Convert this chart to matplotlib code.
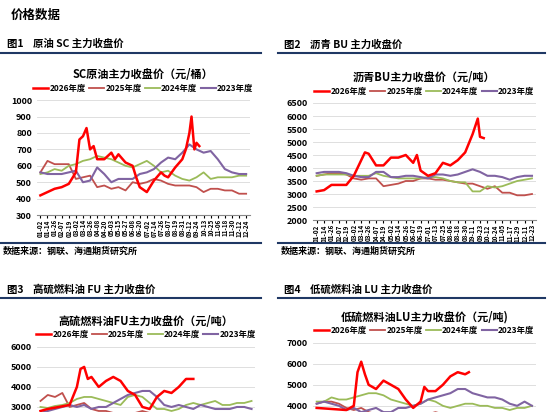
import numpy as np
import matplotlib.pyplot as plt

plt.rcParams['font.family'] = ['Noto Sans CJK SC', 'DejaVu Sans']

# couleurs des séries
C26, C25, C24, C23 = '#FF0000', '#C0504D', '#9BBB59', '#8064A2'
yrs = ['2026年度', '2025年度', '2024年度', '2023年度']

# axe des dates
sc_ticks = ['01-02','01-14','01-26','02-07','02-19','03-02','03-14','03-26','04-08','04-20',
            '05-03','05-15','05-27','06-08','06-20','07-02','07-14','07-26','08-07','08-19',
            '08-31','09-12','09-24','10-13','10-25','11-06','11-18','11-30','12-12','12-24']
bu_ticks = ['01-02','01-14','01-26','02-07','02-19','03-02','03-14','03-26','04-07','04-19',
            '05-02','05-14','05-26','06-07','06-19','07-01','07-13','07-25','08-06','08-18',
            '08-30','09-11','09-23','10-12','10-24','11-05','11-17','11-29','12-11','12-23']

# SC
sc26_x = [0,1,2,3,4,5,5.5,6,6.5,7,7.5,8,9,10,10.5,11,12,13,13.5,14,15,16,17,17.5,18,19,20,20.5,21,21.3,21.7,22,22.4]
sc26_y = [420,440,460,470,490,560,760,780,830,700,720,640,640,680,640,670,620,600,530,470,440,510,560,540,530,590,640,700,800,900,700,740,720]
sc25 = [560,630,610,610,610,520,530,540,470,480,460,470,450,500,490,500,520,510,490,480,480,480,470,440,460,460,450,450,430,430]
sc24 = [550,560,580,570,600,610,630,640,660,650,640,620,600,590,610,630,600,560,570,540,520,510,530,560,520,530,530,530,540,540]
sc23 = [560,550,550,550,560,570,500,510,590,550,500,520,520,520,550,560,580,620,650,640,680,730,700,680,690,640,580,560,550,550]

# BU
bu26_x = [0,1,2,3,4,5,6,6.5,7,8,9,10,11,12,13,13.5,14,15,16,17,18,19,20,21,21.7,22,22.5]
bu26_y = [3100,3150,3350,3350,3350,3700,4300,4600,4550,4100,4100,4400,4400,4500,4200,4500,3900,3700,3800,4200,4100,4300,4600,5300,5900,5200,5150]
bu25 = [3700,3750,3800,3800,3750,3600,3550,3600,3600,3300,3350,3400,3500,3500,3600,3600,3550,3550,3500,3450,3400,3400,3300,3200,3300,3050,3050,2950,2950,3000]
bu24 = [3700,3750,3750,3750,3750,3700,3700,3700,3800,3700,3650,3600,3600,3600,3600,3650,3650,3600,3500,3450,3450,3100,3100,3300,3250,3300,3400,3500,3550,3600]
bu23 = [3800,3850,3850,3850,3800,3700,3650,3650,3850,3850,3650,3650,3700,3700,3650,3600,3750,3750,3700,3750,3850,3950,3850,3700,3700,3650,3550,3650,3700,3700]

# FU
fu26_x = [0,1,4,5,5.5,6,6.5,7,8,9,10,11,12,13,14,15,16,17,18,19,20,21]
fu26_y = [2800,2900,3100,4000,4900,5000,4400,4500,4000,4300,4500,4300,3800,3600,3000,2900,3500,3800,3700,4000,4400,4400]
fu25 = [3300,3600,3500,3700,3000,3100,3200,2900,2800,2800,2700,2700,2700,2700,2800,2700,2700,2600,2600,2600,2700,2700,2600,2500,2500,2500,2400,2400,2400,2400]
fu24 = [3000,2950,3050,3100,3200,3400,3500,3500,3400,3300,3200,3100,3500,3600,3500,3200,2900,2900,2800,2900,3100,3200,3100,3200,3300,3100,3100,3200,3200,3300]
fu23 = [2700,2800,2900,3000,3100,3000,3100,2900,3000,3000,3200,3400,3600,3700,3800,3800,3500,3100,3000,3100,3000,2900,3100,3000,2900,2900,2900,3000,3000,2900]

# LU
lu26_x = [0,4,5,5.5,6,6.5,7,8,9,10,11,12,13,14,14.5,15,16,17,18,19,20,20.5]
lu26_y = [3900,3800,4000,5600,6100,5500,5000,4800,5200,5000,4800,4300,3900,4200,4900,4700,4700,5000,5400,5600,5500,5600]
lu25 = [4100,4200,4200,4100,3900,3800,3900,3700,3600,3600,3600,3500,3500,3500,3600,3600,3700,3600,3500,3500,3500,3400,3400,3300,3300,3300,3300,3200,3200,3200]
lu24 = [4200,4200,4400,4300,4300,4400,4500,4600,4600,4500,4300,4200,4100,4000,4100,4300,4200,4000,3900,4000,4100,4100,4000,4000,3900,3900,3800,3900,3900,4000]
lu23 = [4100,4200,4100,4000,3800,3900,3700,3800,3900,3700,3700,3900,3900,4000,4100,4300,4400,4500,4600,4800,4800,4600,4500,4400,4400,4300,4100,4000,4200,4000]


def panel(rect, titre, ticks, d26x, d26y, d25, d24, d23, ylim, ystep, show_x=True):
    ax = fig.add_axes(rect)
    idx = np.arange(len(ticks))
    ax.plot(idx, d25, color=C25, lw=1.3, label=yrs[1])
    ax.plot(idx, d24, color=C24, lw=1.3, label=yrs[2])
    ax.plot(idx, d23, color=C23, lw=1.5, label=yrs[3])
    ax.plot(d26x, d26y, color=C26, lw=1.8, label=yrs[0], zorder=5)
    h, l = ax.get_legend_handles_labels()
    order = [3, 0, 1, 2]
    ax.legend([h[i] for i in order], [l[i] for i in order], loc='lower center',
              bbox_to_anchor=(0.5, 1.0), ncol=4, frameon=False,
              handlelength=1.8, handletextpad=0.15, columnspacing=0.4,
              prop={'weight': 'bold', 'size': 6})
    ax.set_title(titre, fontsize=8, fontweight='bold', pad=16)
    ax.set_ylim(*ylim)
    ax.set_yticks(np.arange(ylim[0], ylim[1] + 1, ystep))
    ax.set_xlim(-0.5, len(ticks) - 0.5)
    ax.set_xticks(idx)
    if show_x:
        ax.set_xticklabels(ticks, rotation=90, fontsize=4.5, fontweight='bold')
    else:
        ax.set_xticklabels([])
    ax.tick_params(axis='y', labelsize=6.5, length=0)
    for t in ax.get_yticklabels():
        t.set_fontweight('bold')
    ax.tick_params(axis='x', length=2, pad=1)
    ax.grid(axis='y', color='#D9D9D9', lw=0.6)
    for s in ['top', 'right', 'left']:
        ax.spines[s].set_visible(False)
    ax.spines['bottom'].set_color('#888888')
    return ax


fig = plt.figure(figsize=(5.5, 4.12), dpi=100)
fig.text(0.02, 0.962, '价格数据', fontsize=9, fontweight='bold', va='center')

# en-têtes et filets
for x0, x1, y, txt in [(0.0, 0.475, 0.893, '图1    原油 SC 主力收盘价'),
                       (0.505, 0.99, 0.893, '图2    沥青 BU 主力收盘价'),
                       (0.0, 0.475, 0.297, '图3    高硫燃料油 FU 主力收盘价'),
                       (0.505, 0.99, 0.297, '图4    低硫燃料油 LU 主力收盘价')]:
    fig.text(x0 + 0.012, y, txt, fontsize=7.5, fontweight='bold', va='center')
    fig.add_artist(plt.Line2D([x0, x1], [y - 0.021, y - 0.021], color='#1F3864', lw=1.5))

for x0, x1 in [(0.0, 0.475), (0.505, 0.99)]:
    fig.add_artist(plt.Line2D([x0, x1], [0.41, 0.41], color='#1F3864', lw=1.5))
    fig.text(x0 + 0.005, 0.39, '数据来源：钢联、海通期货研究所', fontsize=6.5, fontweight='bold', va='center')

panel([0.067, 0.478, 0.387, 0.279], 'SC原油主力收盘价（元/桶）', sc_ticks,
      sc26_x, sc26_y, sc25, sc24, sc23, (300, 1000), 100)
panel([0.569, 0.466, 0.405, 0.284], '沥青BU主力收盘价（元/吨）', bu_ticks,
      bu26_x, bu26_y, bu25, bu24, bu23, (2000, 6500), 500)
panel([0.067, -0.085, 0.397, 0.243], '高硫燃料油FU主力收盘价（元/吨）', sc_ticks,
      fu26_x, fu26_y, fu25, fu24, fu23, (1000, 6000), 1000, show_x=False)
panel([0.569, -0.087, 0.405, 0.255], '低硫燃料油LU主力收盘价（元/吨)', sc_ticks,
      lu26_x, lu26_y, lu25, lu24, lu23, (2000, 7000), 1000, show_x=False)

fig.savefig('out.png', dpi=100)
